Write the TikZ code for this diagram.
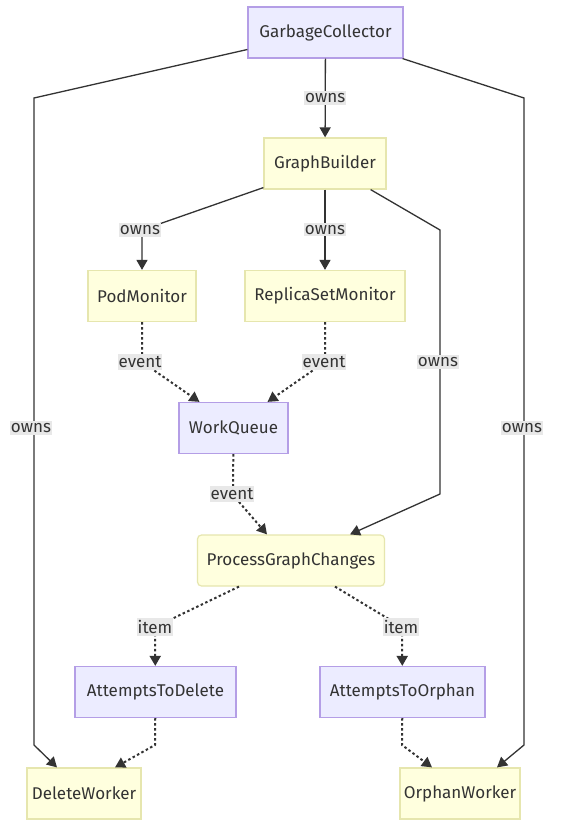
\documentclass[tikz,border=0pt]{standalone}
\usepackage{fontspec}
\setmainfont{Fira Sans}
\usetikzlibrary{arrows.meta,calc}
\definecolor{pfill}{HTML}{ECECFF}
\definecolor{pdraw}{HTML}{B49EE6}
\definecolor{yfill}{HTML}{FFFFDE}
\definecolor{ydraw}{HTML}{E6E6AE}
\definecolor{txt}{HTML}{333333}
\definecolor{lblbg}{HTML}{E8E8E8}
\tikzset{
  box/.style={draw, line width=1.2pt, minimum height=51, inner sep=0pt, text=txt, font=\fontsize{17}{19}\selectfont},
  pbox/.style={box, fill=pfill, draw=pdraw},
  ybox/.style={box, fill=yfill, draw=ydraw},
  lbl/.style={fill=lblbg, inner xsep=1pt, inner ysep=2pt, text=txt, font=\fontsize{17}{19}\selectfont},
  solidedge/.style={draw=txt, line width=1.3pt, -{Triangle[length=10pt,width=11pt]}},
  dotedge/.style={draw=txt, line width=2pt, dash pattern=on 2.5pt off 2.5pt, -{Triangle[length=10pt,width=11pt]}},
}
\begin{document}
\begin{tikzpicture}[x=1pt,y=-1pt]
\useasboundingbox[fill=white] (0,0) rectangle (571,829);
% nodes
\node[pbox, minimum width=155] (gc) at (325.5,32.5) {GarbageCollector};
\node[ybox, minimum width=122] (gb) at (325,163.5) {GraphBuilder};
\node[ybox, minimum width=108] (pm) at (142,296) {PodMonitor};
\node[ybox, minimum width=160] (rsm) at (325,296) {ReplicaSetMonitor};
\node[pbox, minimum width=109] (wq) at (233.5,428) {WorkQueue};
\node[ybox, minimum width=187, rounded corners=4pt] (pgc) at (291,560.5) {ProcessGraphChanges};
\node[pbox, minimum width=161] (atd) at (155.5,692) {AttemptsToDelete};
\node[pbox, minimum width=165] (ato) at (402.5,692) {AttemptsToOrphan};
\node[ybox, minimum width=114] (dw) at (84,793.5) {DeleteWorker};
\node[ybox, minimum width=120] (ow) at (460,793.5) {OrphanWorker};
% waypoints
\coordinate (a1) at (34,98);
\coordinate (a2) at (34,745);
\coordinate (b1) at (524,98);
\coordinate (b2) at (524,745);
\coordinate (c1) at (142,230);
\coordinate (d1) at (440,230);
\coordinate (d2) at (440,494);
\coordinate (e1) at (142,362);
\coordinate (f1) at (325,362);
\coordinate (g1) at (233,495);
\coordinate (h1) at (155,627);
\coordinate (i1) at (402,627);
\coordinate (j1) at (155,745);
\coordinate (k1) at (402,745);
% solid edges
\draw[solidedge] ([yshift=-17]gc.west) -- (a1) -- (a2) -- ([xshift=-27]dw.north);
\node[lbl] at (31,428) {owns};
\draw[solidedge] (gc) -- node[lbl]{owns} (gb);
\draw[solidedge] ([xshift=-1]gc.south east) -- (b1) -- (b2) -- ([xshift=37]ow.north);
\node[lbl] at (522,428) {owns};
\draw[solidedge] ([yshift=2]gb.south west) -- (c1) -- (pm);
\node[lbl] at (140,230) {owns};
\draw[solidedge] (gb) -- node[lbl]{owns} (rsm);
\draw[solidedge] ([xshift=-16]gb.south east) -- (d1) -- (d2) -- ([xshift=59]pgc.north);
\node[lbl] at (438,362) {owns};
% dotted edges
\draw[dotedge] (pm) -- (e1) -- ([xshift=-34]wq.north);
\node[lbl] at (140,362) {event};
\draw[dotedge] (rsm) -- (f1) -- ([xshift=34]wq.north);
\node[lbl] at (324,362) {event};
\draw[dotedge] (wq) -- (g1) -- ([xshift=-24]pgc.north);
\node[lbl] at (232,494) {event};
\draw[dotedge] ([xshift=-52]pgc.south) -- (h1) -- (atd);
\node[lbl] at (155,627) {item};
\draw[dotedge] ([xshift=44]pgc.south) -- (i1) -- (ato);
\node[lbl] at (401,627) {item};
\draw[dotedge] (atd) -- (j1) -- ([xshift=31]dw.north);
\draw[dotedge] (ato) -- (k1) -- ([xshift=-28]ow.north);
\end{tikzpicture}
\end{document}
